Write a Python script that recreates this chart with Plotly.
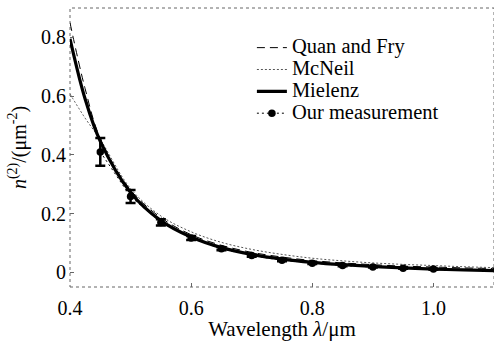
import plotly.graph_objects as go

wl = [0.40, 0.425, 0.45, 0.50, 0.55, 0.60, 0.65, 0.70, 0.75, 0.80, 0.85, 0.90, 0.95, 1.00, 1.05, 1.10]
quan_fry = [0.85, 0.625, 0.455, 0.280, 0.186, 0.128, 0.092, 0.068, 0.052, 0.040, 0.032, 0.026, 0.021, 0.018, 0.015, 0.013]
mcneil = [0.607, 0.525, 0.452, 0.285, 0.192, 0.138, 0.102, 0.078, 0.061, 0.048, 0.039, 0.032, 0.027, 0.023, 0.019, 0.016]
mielenz = [0.795, 0.59, 0.446, 0.272, 0.176, 0.120, 0.084, 0.061, 0.045, 0.034, 0.026, 0.020, 0.015, 0.011, 0.008, 0.006]

meas_wl = [0.45, 0.50, 0.55, 0.60, 0.65, 0.70, 0.75, 0.80, 0.85, 0.90, 0.95, 1.00]
meas = [0.410, 0.258, 0.170, 0.117, 0.080, 0.057, 0.041, 0.031, 0.023, 0.018, 0.014, 0.011]
meas_err = [0.047, 0.022, 0.011, 0.007, 0.005, 0.004, 0.003, 0.003, 0.002, 0.002, 0.002, 0.002]

series_names = ["Quan and Fry", "McNeil", "Mielenz", "Our measurement"]

x_ticks = [0.4, 0.6, 0.8, 1.0]
x_ticklabels = ["0.4", "0.6", "0.8", "1.0"]
y_ticks = [0, 0.2, 0.4, 0.6, 0.8]
y_ticklabels = ["0", "0.2", "0.4", "0.6", "0.8"]

FONT = "Liberation Serif"


def big(s):
    return '<span style="font-size:20.5px">' + s + '</span>'


fig = go.Figure()
fig.add_trace(go.Scatter(x=wl, y=quan_fry, mode="lines", name=big(series_names[0]),
                         line=dict(color="black", width=1, dash="8px,5px", shape="spline")))
fig.add_trace(go.Scatter(x=wl, y=mcneil, mode="lines", name=big(series_names[1]),
                         line=dict(color="#555555", width=1, dash="2px,2px", shape="spline")))
fig.add_trace(go.Scatter(x=wl, y=mielenz, mode="lines", name=big(series_names[2]),
                         line=dict(color="black", width=3.2, shape="spline")))
fig.add_trace(go.Scatter(x=meas_wl, y=meas, mode="lines+markers", name=big(series_names[3]),
                         line=dict(color="black", width=1, dash="2px,3px"),
                         marker=dict(color="black", size=7.5, symbol="circle"),
                         error_y=dict(type="data", array=meas_err, visible=True,
                                      color="black", thickness=2.5, width=5)))

axis_common = dict(showgrid=False, zeroline=False, ticks="inside", ticklen=4,
                   tickcolor="#666", showline=False, mirror=True,
                   tickfont=dict(family=FONT, size=20, color="black"))

fig.update_layout(
    width=494, height=341,
    margin=dict(l=70, r=0, t=8, b=54),
    paper_bgcolor="white", plot_bgcolor="white",
    font=dict(family=FONT, size=19, color="black"),
    xaxis=dict(range=[0.4, 1.1], tickvals=x_ticks, ticktext=x_ticklabels,
               ticklabelstandoff=7,
               title=dict(text="Wavelength <i>λ</i>/μm", font=dict(family=FONT, size=21), standoff=0),
               **axis_common),
    yaxis=dict(range=[-0.05, 0.9], tickvals=y_ticks, ticktext=y_ticklabels,
               ticklabelstandoff=3,
               title=dict(text="<i>n</i><sup>(2)</sup>/(μm<sup>-2</sup>)", font=dict(family=FONT, size=20), standoff=9),
               **axis_common),
    legend=dict(x=0.429, y=0.915, xanchor="left", yanchor="top",
                bgcolor="rgba(0,0,0,0)", font=dict(family=FONT, size=14.5),
                tracegroupgap=0, itemwidth=30),
    showlegend=True,
)

fig.add_shape(type="rect", xref="paper", yref="paper", x0=0, y0=0, x1=1, y1=1,
              line=dict(color="#666", width=1, dash="dot"), layer="below")

fig.write_html("out.html")
